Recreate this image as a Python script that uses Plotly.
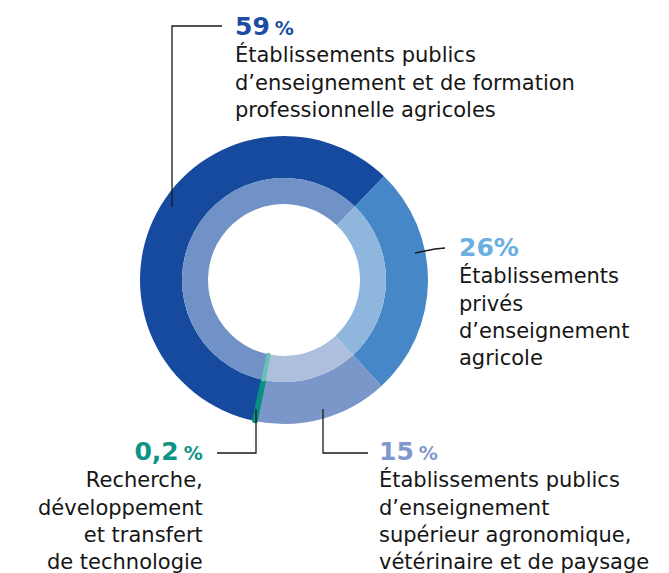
import plotly.graph_objects as go

# Répartition par type d'établissement (en %)
categories = [
    "Établissements publics d'enseignement et de formation professionnelle agricoles",
    "Établissements privés d'enseignement agricole",
    "Établissements publics d'enseignement supérieur agronomique, vétérinaire et de paysage",
    "Recherche, développement et transfert de technologie",
]
values = [59, 26, 15, 0.2]
value_labels = ["59", "26", "15", "0,2"]
outer_colors = ["#164a9f", "#4587c7", "#7b96c9", "#078f7f"]
inner_colors = ["#7192c6", "#8fb6dc", "#aebedd", "#66c2b4"]
label_colors = ["#1c4da2", "#6aaee2", "#7f98ce", "#0e9484"]

desc_lines = [
    ["Établissements publics", "d’enseignement et de formation", "professionnelle agricoles"],
    ["Établissements", "privés", "d’enseignement", "agricole"],
    ["Établissements publics", "d’enseignement", "supérieur agronomique,", "vétérinaire et de paysage"],
    ["Recherche,", "développement", "et transfert", "de technologie"],
]

W, H = 669, 573
CX, CY = 284, 280
R_OUT, R_MID, R_HOLE = 144, 102, 76
FONT = "DejaVu Sans"
DESC_SIZE = 21
LINE_STEP = 1.3 * DESC_SIZE  # plotly's multi-line spacing


def domain(r):
    return dict(x=[(CX - r) / W, (CX + r) / W], y=[1 - (CY + r) / H, 1 - (CY - r) / H])


fig = go.Figure()
for r, hole, colors, lw in [
    (R_OUT, R_MID / R_OUT, outer_colors, 4),
    (R_MID, R_HOLE / R_MID, inner_colors, 3),
]:
    fig.add_trace(go.Pie(
        values=values, labels=categories, sort=False, direction="clockwise",
        rotation=-168, hole=hole, domain=domain(r), textinfo="none",
        hoverinfo="skip", showlegend=False,
        marker=dict(colors=colors, line=dict(color=colors, width=[0, 0, 0, lw])),
    ))

# leader lines (pixel coordinates on a hidden 0..W / 0..H frame)
leaders = [
    [(172, 207), (172, 26), (222, 26)],
    [(415, 253), (435, 249), (445, 248)],
    [(323, 409), (323, 453), (368, 453)],
    [(256, 409), (256, 453), (217, 453)],
]
for pts in leaders:
    path = "M " + " L ".join(f"{x},{y}" for x, y in pts)
    fig.add_shape(type="path", path=path, xref="x", yref="y",
                  line=dict(color="#1a1a1a", width=1.3))

# label blocks: (x, centre of the percentage line, anchor, small %)
blocks = [
    (233, 26, "left", True),
    (457, 247, "left", False),
    (377, 451, "left", True),
    (205, 451, "right", True),
]
for i, (x, yp, anchor, small_pct) in enumerate(blocks):
    pct = "\u202f<span style='font-size:19px'>%</span>" if small_pct else "%"
    head = (f"<span style='font-size:25px;color:{label_colors[i]}'>"
            f"<b>{value_labels[i]}{pct}</b></span>")
    n = len(desc_lines[i]) + 1
    fig.add_annotation(
        x=x, y=yp + (n - 1) / 2 * LINE_STEP, xref="x", yref="y",
        xanchor=anchor, yanchor="middle", align=anchor,
        text="<br>".join([head] + desc_lines[i]), showarrow=False,
        font=dict(family=FONT, size=DESC_SIZE, color="#161616"),
    )

fig.update_layout(
    width=W, height=H, margin=dict(l=0, r=0, t=0, b=0),
    paper_bgcolor="white", plot_bgcolor="white",
    xaxis=dict(range=[0, W], visible=False, fixedrange=True),
    yaxis=dict(range=[H, 0], visible=False, fixedrange=True),
)
fig.write_html("out.html")
